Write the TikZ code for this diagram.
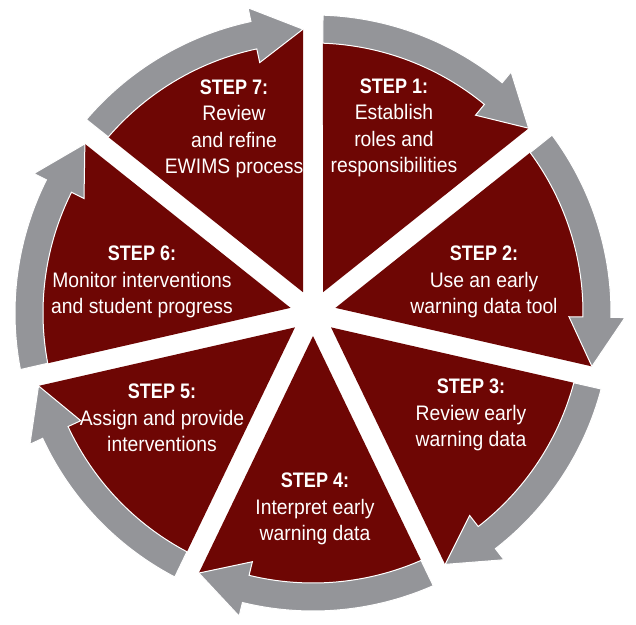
\documentclass[tikz,border=0pt]{standalone}
\usepackage{fontspec}
\setmainfont{Liberation Sans}[FakeStretch=0.92, BoldFeatures={FakeStretch=0.86}]
\definecolor{wedgered}{RGB}{110,6,4}
\definecolor{arrowgray}{RGB}{148,149,153}
\begin{document}
\begin{tikzpicture}[x=1pt,y=1pt,
  steptext/.style={text=white, align=center, font=\fontsize{21}{26.5}\selectfont, inner sep=0pt},
  wedgefill/.style={fill=wedgered},
  arrowshape/.style={fill=arrowgray, draw=white, line width=1pt, line join=miter}]
\useasboundingbox (0,0) rectangle (636,624);
\begin{scope}[shift={(313,311)}]
\foreach \k in {1,...,7}{
  \pgfmathsetmacro\angS{90-(\k-1)*360/7}
  \pgfmathsetmacro\angE{90-\k*360/7}
  \pgfmathsetmacro\angM{(\angS+\angE)/2}
  \pgfmathsetmacro\angA{\angS-asin(10/270)}
  \pgfmathsetmacro\angO{\angS-asin(10/298)}
  \pgfmathsetmacro\angT{\angE+asin(10/284)}
  \pgfmathsetmacro\angB{\angT+10}
  \fill[wedgefill] (\angM:23.05) -- (\angA:270) arc[start angle=\angA, end angle=\angB, radius=270] -- (\angB:256) -- (\angT:284) -- cycle;
  \filldraw[arrowshape] (\angA:270) -- (\angO:298) arc[start angle=\angO, end angle=\angB, radius=298] -- (\angB:312) -- (\angT:284) -- (\angB:256) -- (\angB:270) arc[start angle=\angB, end angle=\angA, radius=270] -- cycle;
}
\end{scope}
\node[steptext] (s1) at (394,496) {\textbf{STEP 1:}\\Establish\\roles and\\responsibilities};
\node[steptext] (s2) at (484,342) {\textbf{STEP 2:}\\Use an early\\warning data tool};
\node[steptext] (s3) at (471,209) {\textbf{STEP 3:}\\Review early\\warning data};
\node[steptext] (s4) at (315,115) {\textbf{STEP 4:}\\Interpret early\\warning data};
\node[steptext] (s5) at (162,206) {\textbf{STEP 5:}\\Assign and provide\\interventions};
\node[steptext] (s6) at (142,342) {\textbf{STEP 6:}\\Monitor interventions\\and student progress};
\node[steptext] (s7) at (234,495) {\textbf{STEP 7:}\\Review\\and refine\\EWIMS process};
\end{tikzpicture}
\end{document}
